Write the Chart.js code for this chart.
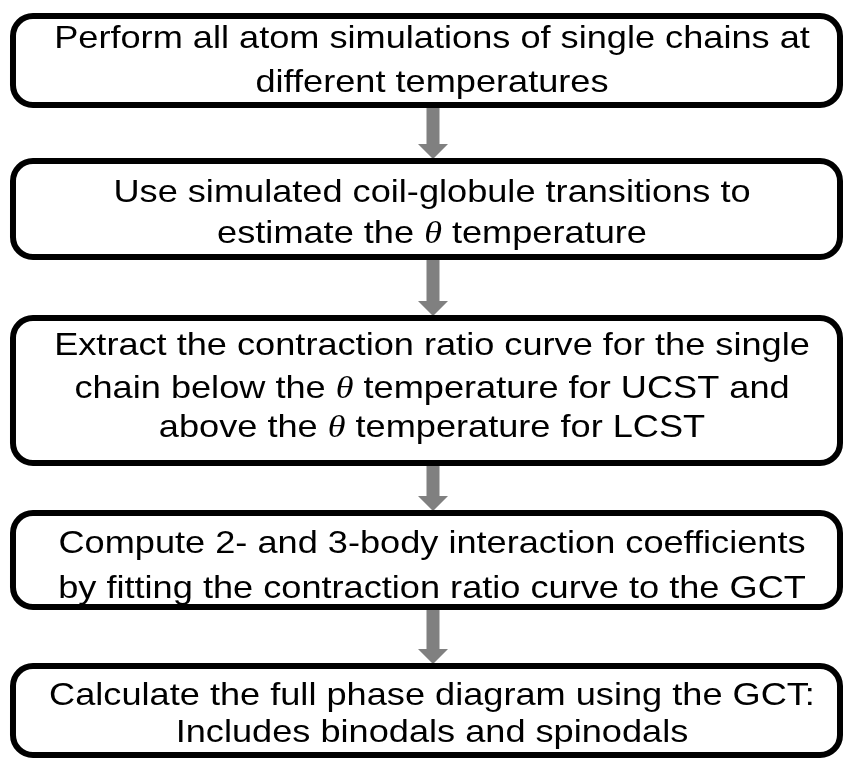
<!DOCTYPE html>
<html>
<head>
<meta charset="utf-8">
<script src="https://cdn.jsdelivr.net/npm/chart.js@4/dist/chart.umd.min.js"></script>
<style>
html,body{margin:0;padding:0;background:#fff;}
#wrap{width:844px;height:762px;}
</style>
</head>
<body>
<div id="wrap"><canvas id="c" width="844" height="762"></canvas></div>
<script>
// ---- content (data) ----
const step1 = ["Perform all atom simulations of single chains at", "different temperatures"];
const step2 = ["Use simulated coil-globule transitions to", "estimate the θ temperature"];
const step3 = ["Extract the contraction ratio curve for the single", "chain below the θ temperature for UCST and", "above the θ temperature for LCST"];
const step4 = ["Compute 2- and 3-body interaction coefficients", "by fitting the contraction ratio curve to the GCT"];
const step5 = ["Calculate the full phase diagram using the GCT:", "Includes binodals and spinodals"];
const steps = [step1, step2, step3, step4, step5];

// ---- layout (positions in scale units, kept separate from content) ----
const boxTop    = [13, 158, 315, 510, 663];
const boxBottom = [108, 260, 466, 610, 758];
const baselines = [[48, 92], [202, 243], [355, 398, 437], [553, 598], [705, 742]];
const layout = { left: 10, right: 843, border: 6, radius: 20, textX: 432, arrowX: 433,
  shaftW: 13, headW: 30, headH: 15, fontSize: 32, stretch: 1.13 };

function roundRect(ctx, x, y, w, h, r) {
  ctx.beginPath();
  ctx.moveTo(x + r, y);
  ctx.lineTo(x + w - r, y);
  ctx.arcTo(x + w, y, x + w, y + r, r);
  ctx.lineTo(x + w, y + h - r);
  ctx.arcTo(x + w, y + h, x + w - r, y + h, r);
  ctx.lineTo(x + r, y + h);
  ctx.arcTo(x, y + h, x, y + h - r, r);
  ctx.lineTo(x, y + r);
  ctx.arcTo(x, y, x + r, y, r);
  ctx.closePath();
}

const flowPlugin = {
  id: 'flow',
  afterDraw(chart) {
    const ctx = chart.ctx;
    const xs = chart.scales.x, ys = chart.scales.y;
    const X = v => xs.getPixelForValue(v), Y = v => ys.getPixelForValue(v);
    const normalFont = layout.fontSize + 'px "Liberation Sans", Arial, sans-serif';
    const thetaFont = 'italic ' + (layout.fontSize) + 'px "Liberation Serif", "DejaVu Serif", serif';
    ctx.save();
    // arrows
    ctx.fillStyle = '#808080';
    for (let i = 0; i < steps.length - 1; i++) {
      const cx = X(layout.arrowX);
      const y0 = Y(boxBottom[i]) - 1, y1 = Y(boxTop[i + 1]) + 1;
      const hy = y1 - layout.headH;
      ctx.beginPath();
      ctx.moveTo(cx - layout.shaftW / 2, y0);
      ctx.lineTo(cx + layout.shaftW / 2, y0);
      ctx.lineTo(cx + layout.shaftW / 2, hy);
      ctx.lineTo(cx + layout.headW / 2, hy);
      ctx.lineTo(cx, y1);
      ctx.lineTo(cx - layout.headW / 2, hy);
      ctx.lineTo(cx - layout.shaftW / 2, hy);
      ctx.closePath();
      ctx.fill();
    }
    // boxes
    const b = layout.border;
    steps.forEach((lines, i) => {
      const x0 = X(layout.left) + b / 2, x1 = X(layout.right) - b / 2;
      const y0 = Y(boxTop[i]) + b / 2, y1 = Y(boxBottom[i]) - b / 2;
      roundRect(ctx, x0, y0, x1 - x0, y1 - y0, layout.radius);
      ctx.fillStyle = '#fff';
      ctx.fill();
      ctx.lineWidth = b;
      ctx.strokeStyle = '#000';
      ctx.stroke();
    });
    // text
    ctx.fillStyle = '#000';
    ctx.textBaseline = 'alphabetic';
    ctx.textAlign = 'left';
    steps.forEach((lines, i) => {
      lines.forEach((line, j) => {
        const parts = line.split('θ');
        const widths = parts.map(p => { ctx.font = normalFont; return ctx.measureText(p).width; });
        ctx.font = thetaFont;
        const tw = ctx.measureText('θ').width;
        const total = widths.reduce((a, c) => a + c, 0) + tw * (parts.length - 1);
        ctx.save();
        ctx.translate(X(layout.textX), Y(baselines[i][j]));
        ctx.scale(layout.stretch, 1);
        let x = -total / 2;
        parts.forEach((p, k) => {
          ctx.font = normalFont;
          ctx.fillText(p, x, 0);
          x += widths[k];
          if (k < parts.length - 1) {
            ctx.font = thetaFont;
            ctx.fillText('θ', x, 0);
            x += tw;
          }
        });
        ctx.restore();
      });
    });
    ctx.restore();
  }
};

new Chart(document.getElementById('c'), {
  type: 'scatter',
  data: { labels: steps.map(s => s.join(' ')), datasets: [{ data: [], pointRadius: 0 }] },
  options: {
    responsive: false,
    animation: false,
    layout: { padding: 0 },
    plugins: { legend: { display: false }, tooltip: { enabled: false } },
    scales: {
      x: { type: 'linear', min: 0, max: 844, display: false },
      y: { type: 'linear', min: 0, max: 762, reverse: true, display: false }
    }
  },
  plugins: [flowPlugin]
});
</script>
</body>
</html>
